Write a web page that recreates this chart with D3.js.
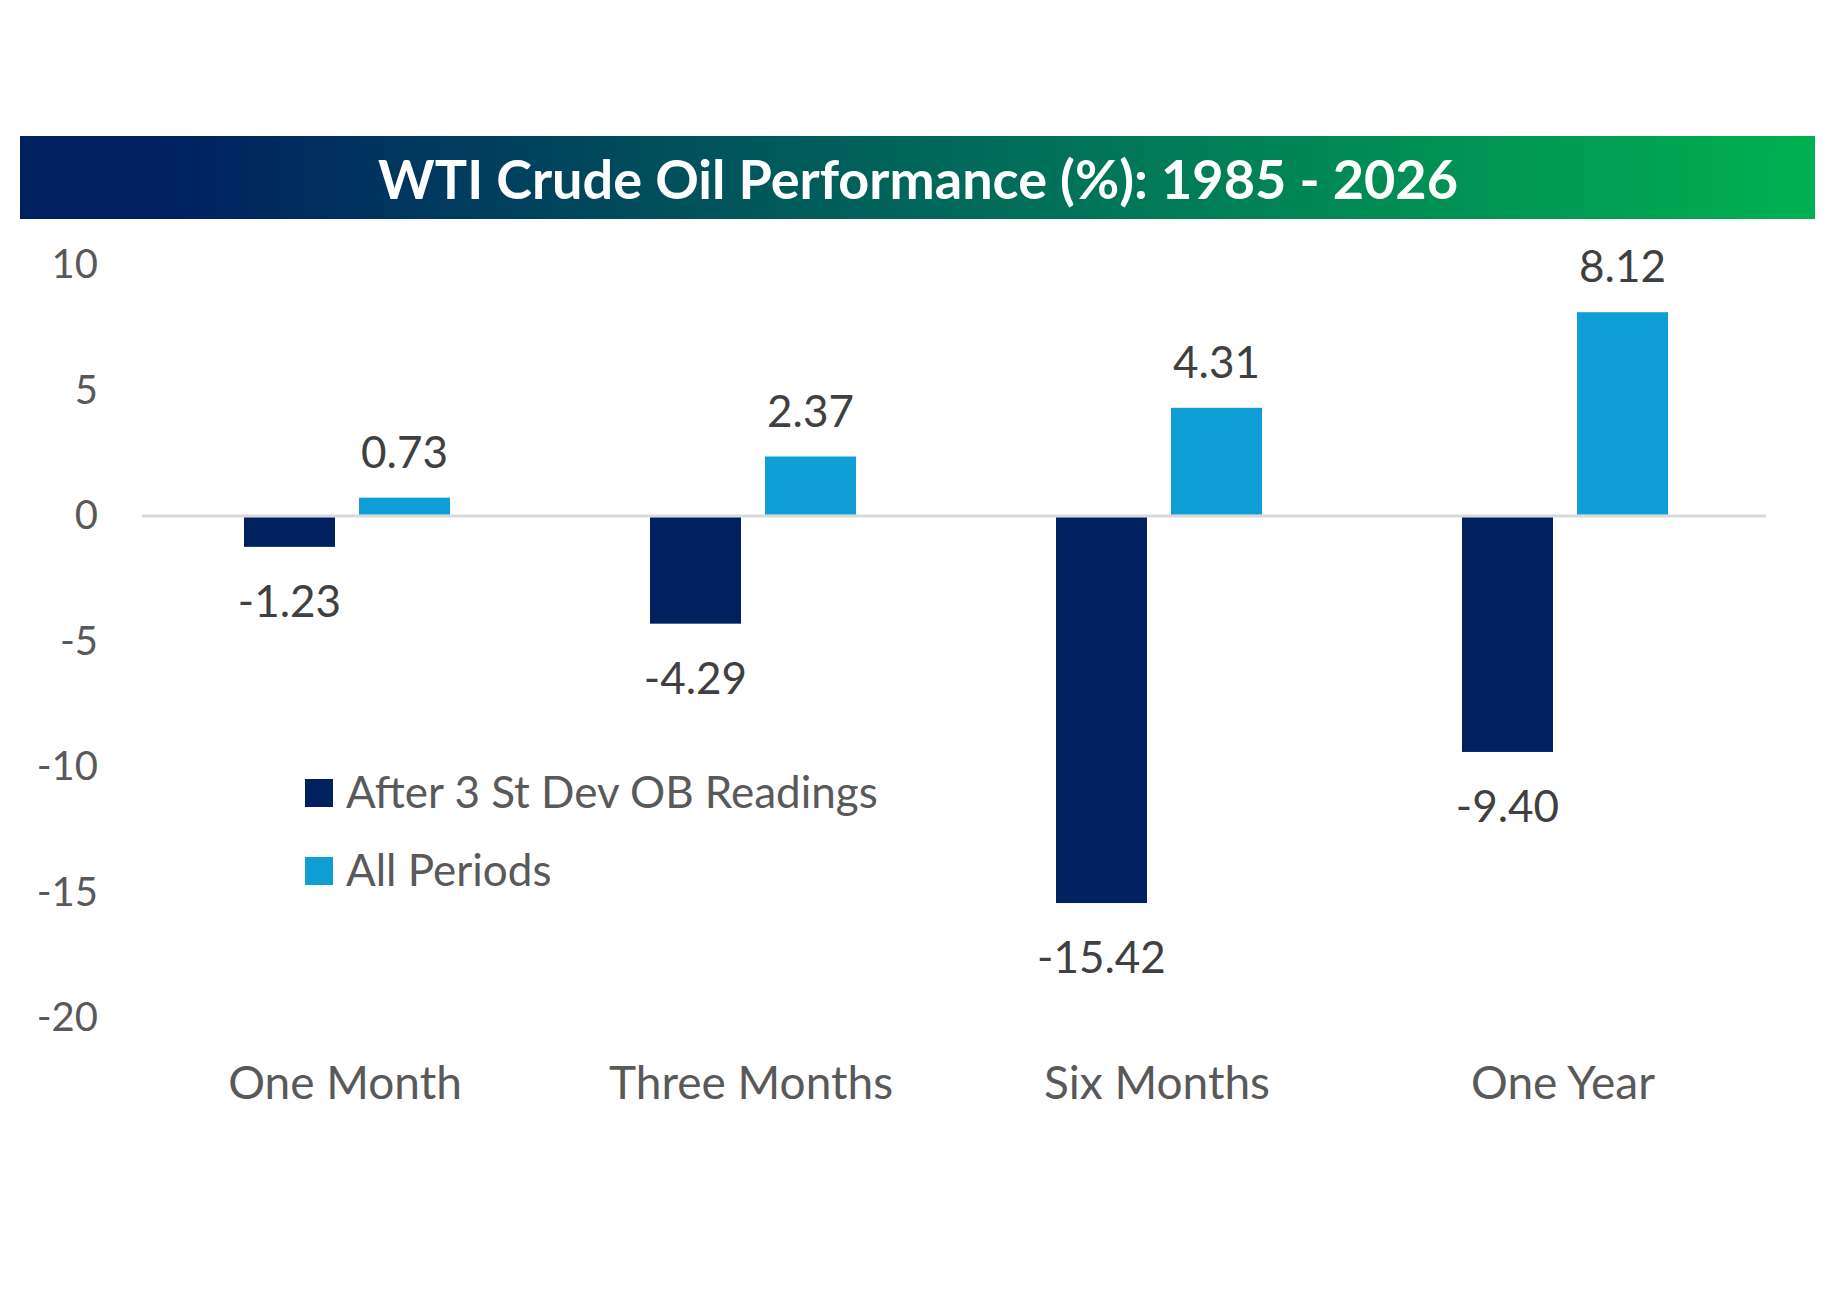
<!DOCTYPE html>
<html>
<head>
<meta charset="utf-8">
<script src="https://cdn.jsdelivr.net/npm/d3@7"></script>
<style>
body { margin: 0; background: #fff; }
text { font-family: Lato, "Open Sans", sans-serif; }
</style>
</head>
<body>
<div id="chart"></div>
<script>
var width = 1828;
var height = 1292;

// chart data
var categories = ["One Month", "Three Months", "Six Months", "One Year"];
var seriesNames = ["After 3 St Dev OB Readings", "All Periods"];
var afterOB = [-1.23, -4.29, -15.42, -9.40];
var allPeriods = [0.73, 2.37, 4.31, 8.12];
var yTicks = [10, 5, 0, -5, -10, -15, -20];
var colors = ["#002060", "#109ed6"];

var svg = d3.select("#chart")
  .append("svg")
  .attr("width", width)
  .attr("height", height);

svg.append("rect").attr("width", width).attr("height", height).attr("fill", "#fff");

// title banner with gradient
var grad = svg.append("defs").append("linearGradient")
  .attr("id", "titleGrad")
  .attr("x1", "0%").attr("x2", "100%");
grad.append("stop").attr("offset", "0%").attr("stop-color", "#002060");
grad.append("stop").attr("offset", "8%").attr("stop-color", "#002060");
grad.append("stop").attr("offset", "50%").attr("stop-color", "#00665a");
grad.append("stop").attr("offset", "100%").attr("stop-color", "#00b050");

svg.append("rect")
  .attr("x", 20).attr("y", 136)
  .attr("width", 1795).attr("height", 83)
  .attr("fill", "url(#titleGrad)");

svg.append("text")
  .attr("x", 918).attr("y", 199)
  .attr("text-anchor", "middle")
  .attr("fill", "#fff")
  .attr("font-weight", "bold")
  .attr("font-size", 54)
  .text("WTI Crude Oil Performance (%): 1985 - 2026");

// scales
var y = d3.scaleLinear().domain([-20, 10]).range([1018, 265]);
var x0 = d3.scaleBand().domain(categories).range([142, 1766]).padding(0);
var bw = x0.bandwidth();
var x1 = d3.scaleBand().domain(seriesNames)
  .range([bw / 2 - 101, bw / 2 + 105])
  .paddingInner(0.209).paddingOuter(0);

// y axis labels (plain hyphen minus like the original)
var yAxis = d3.axisLeft(y).tickValues(yTicks).tickSize(0).tickPadding(0)
  .tickFormat(function(d) { return String(d); });
var gy = svg.append("g").attr("transform", "translate(98,0)").call(yAxis);
gy.select(".domain").remove();
gy.selectAll("text")
  .attr("font-size", 40)
  .attr("fill", "#595959")
  .style("font-family", "Lato, sans-serif");

// zero line
svg.append("line")
  .attr("x1", 142).attr("x2", 1766)
  .attr("y1", y(0)).attr("y2", y(0))
  .attr("stroke", "#d9d9d9").attr("stroke-width", 3);

// bars
var rows = categories.map(function(c, i) {
  return { cat: c, vals: [afterOB[i], allPeriods[i]] };
});

var groups = svg.selectAll(".grp").data(rows).enter()
  .append("g")
  .attr("class", "grp")
  .attr("transform", function(d) { return "translate(" + x0(d.cat) + ",0)"; });

var cells = groups.selectAll(".cell")
  .data(function(d) {
    return d.vals.map(function(v, j) { return { s: seriesNames[j], v: v, j: j }; });
  })
  .enter();

cells.append("rect")
  .attr("x", function(d) { return x1(d.s); })
  .attr("width", x1.bandwidth())
  .attr("y", function(d) { return d.v >= 0 ? y(d.v) : y(0) + 1.5; })
  .attr("height", function(d) { return d.v >= 0 ? y(0) - 1.5 - y(d.v) : y(d.v) - y(0) - 1.5; })
  .attr("fill", function(d) { return colors[d.j]; });

cells.append("text")
  .attr("x", function(d) { return x1(d.s) + x1.bandwidth() / 2; })
  .attr("y", function(d) { return d.v >= 0 ? y(d.v) - 30 : y(d.v) + 70; })
  .attr("text-anchor", "middle")
  .attr("font-size", 44)
  .attr("fill", "#404040")
  .text(function(d) { return d.v.toFixed(2); });

// category labels
var xAxis = d3.axisBottom(x0).tickSize(0).tickPadding(0);
var gx = svg.append("g").attr("transform", "translate(0,1099)").call(xAxis);
gx.select(".domain").remove();
gx.selectAll("text")
  .attr("y", 0).attr("dy", 0)
  .attr("font-size", 46)
  .attr("fill", "#595959")
  .style("font-family", "Lato, sans-serif");

// legend
var legend = svg.append("g").attr("transform", "translate(305,779)");
seriesNames.forEach(function(name, i) {
  legend.append("rect")
    .attr("x", 0).attr("y", i * 78)
    .attr("width", 28).attr("height", 28)
    .attr("fill", colors[i]);
  legend.append("text")
    .attr("x", 41).attr("y", i * 78 + 29)
    .attr("font-size", 44)
    .attr("fill", "#595959")
    .text(name);
});
</script>
</body>
</html>
